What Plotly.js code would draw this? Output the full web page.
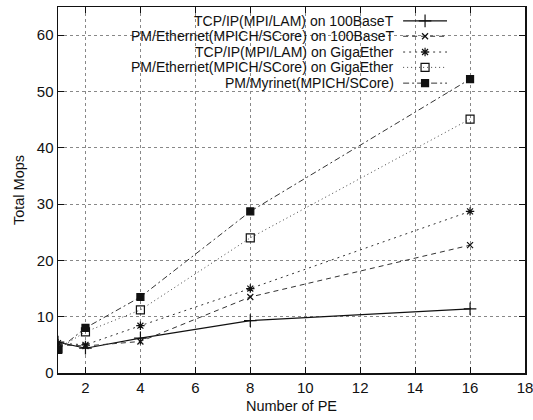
<!DOCTYPE html>
<html><head><meta charset="utf-8">
<script src="https://cdn.plot.ly/plotly-3.0.1.min.js"></script>
<style>body{margin:0;background:#fff}#c{width:533px;height:420px}</style>
</head><body><div id="c"></div>
<script>
const pe = [1, 2, 4, 8, 16];
const tcp100 = [5.5, 4.4, 6.2, 9.3, 11.4];
const pm100 = [5.0, 4.8, 5.6, 13.5, 22.7];
const tcpGiga = [5.3, 5.0, 8.4, 15.0, 28.7];
const pmGiga = [4.3, 7.3, 11.2, 24.0, 45.1];
const pmMyri = [4.1, 8.0, 13.5, 28.7, 52.2];
const names = ["TCP/IP(MPI/LAM) on 100BaseT","PM/Ethernet(MPICH/SCore) on 100BaseT","TCP/IP(MPI/LAM) on GigaEther","PM/Ethernet(MPICH/SCore) on GigaEther","PM/Myrinet(MPICH/SCore)"];
const series = [tcp100, pm100, tcpGiga, pmGiga, pmMyri];
const styles = [
  {dash:'solid', color:'#111', sym:'cross-thin-open', size:9, lw:1.2},
  {dash:'5px,4px', color:'#333', sym:'x-thin-open', size:6, lw:1},
  {dash:'2px,4px', color:'#333', sym:'asterisk-open', size:7, lw:1},
  {dash:'1px,3px', color:'#444', sym:'square-open', size:8, lw:1},
  {dash:'6px,3px,2px,3px', color:'#333', sym:'square', size:7, lw:1}
];
const traces = [];
series.forEach((s,i)=>{
  const st = styles[i];
  traces.push({x:pe, y:s, type:'scatter', mode:'lines+markers', name:names[i], showlegend:false,
    line:{dash:st.dash, color:st.color, width:st.lw},
    marker:{symbol:st.sym, size:st.size, color:'#111', line:{color:'#111', width:1.2}}});
});
const rowY = [0.962, 0.920, 0.877, 0.835, 0.792];
const annotations = [];
series.forEach((s,i)=>{
  const st = styles[i];
  traces.push({x:[0.739,0.833], y:[rowY[i],rowY[i]], xaxis:'x2', yaxis:'y2', mode:'lines', showlegend:false, hoverinfo:'skip',
    line:{dash:st.dash, color:st.color, width:st.lw}});
  traces.push({x:[0.786], y:[rowY[i]], xaxis:'x2', yaxis:'y2', mode:'markers', showlegend:false, hoverinfo:'skip',
    marker:{symbol:st.sym, size:st.size, color:'#111', line:{color:'#111', width:1.2}}});
  annotations.push({xref:'paper', yref:'paper', x:0.724, y:rowY[i], xanchor:'right', yanchor:'middle', showarrow:false,
    text:names[i], font:{family:'Liberation Sans, Arial', size:14, color:'#111'}});
});
const layout = {
  width:533, height:420, paper_bgcolor:'#fff', plot_bgcolor:'#fff',
  margin:{l:58, r:8, t:7, b:47},
  showlegend:false,
  font:{family:'Liberation Sans, Arial', size:15, color:'#111'},
  xaxis:{range:[1,18], tickvals:[2,4,6,8,10,12,14,16,18], ticks:'inside', ticklen:6, tickcolor:'#111',
    ticklabeloverflow:'allow',
    showline:true, linecolor:'#111', linewidth:1.5, mirror:'allticks', zeroline:false,
    showgrid:true, gridcolor:'#888', griddash:'dot', gridwidth:1,
    title:{text:'Number of PE', font:{size:14.5}, standoff:6}},
  yaxis:{range:[0,65], tickvals:[0,10,20,30,40,50,60], ticks:'inside', ticklen:6, tickcolor:'#111',
    showline:true, linecolor:'#111', linewidth:1.5, mirror:'allticks', zeroline:false,
    showgrid:true, gridcolor:'#888', griddash:'dot', gridwidth:1,
    title:{text:'Total Mops', font:{size:14.5}, standoff:8}},
  xaxis2:{overlaying:'x', range:[0,1], visible:false, fixedrange:true},
  yaxis2:{overlaying:'y', range:[0,1], visible:false, fixedrange:true},
  annotations:annotations
};
Plotly.newPlot('c', traces, layout, {displayModeBar:false, staticPlot:true});
</script></body></html>
